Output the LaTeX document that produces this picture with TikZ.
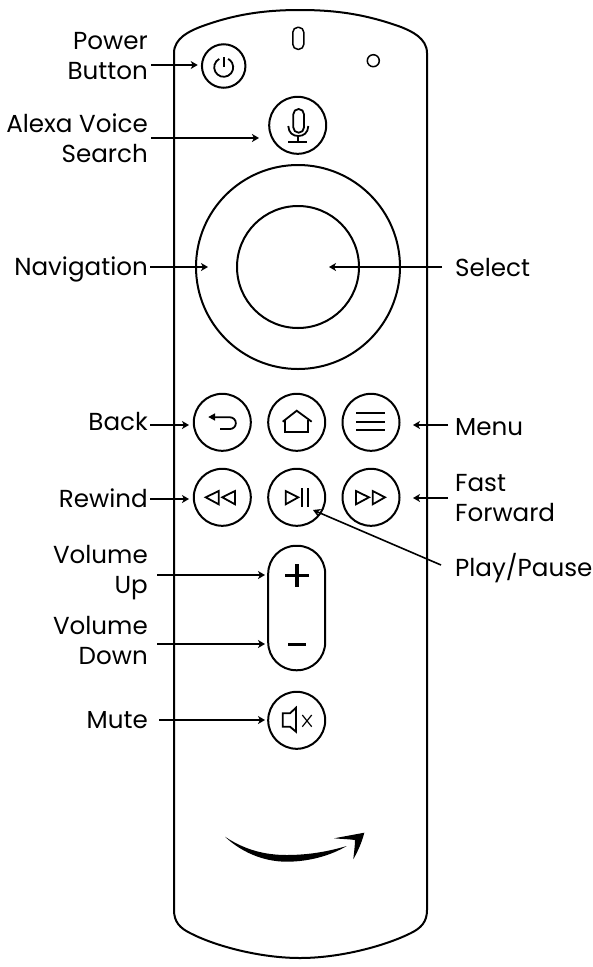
\documentclass[tikz,border=0pt]{standalone}
\usepackage{fontspec}
\setmainfont{Poppins}
\usetikzlibrary{arrows.meta}

\begin{document}
\begin{tikzpicture}[
      x=1pt, y=-1pt,
      font=\fontsize{24.6}{30}\selectfont,
      btn/.style={draw, circle, line width=2pt, inner sep=0pt, minimum size=57pt},
      ring/.style={draw, circle, line width=2pt, inner sep=0pt},
      lbl/.style={anchor=east, align=right, inner sep=0pt},
      lblr/.style={anchor=west, align=left, inner sep=0pt},
      flow/.style={-{Stealth[length=7pt,width=8pt,inset=2pt]}, line width=1.6pt},
      icon/.style={line width=1.8pt, line join=miter}
    ]
    \useasboundingbox (0,0) rectangle (592,967);

    % --- Body of the remote ---------------------------------------------------
    \draw[line width=2pt] (174,53) .. controls (174,38) and (190,31) .. (200,27)
      .. controls (235,14) and (265,10) .. (300,10)
      .. controls (335,10) and (365,14) .. (401,27)
      .. controls (411,31) and (427,38) .. (427,53)
      -- (427,910) .. controls (427,922) and (421,928) .. (411,933)
      .. controls (385,946) and (340,958) .. (300,958)
      .. controls (260,958) and (215,946) .. (190,933)
      .. controls (180,928) and (174,922) .. (174,910) -- cycle;

    % LED slot and light sensor
    \node[draw, line width=1.5pt, rounded corners=5pt, minimum width=11pt, minimum height=22pt,
          inner sep=0pt] (led) at (298.3,38.3) {};
    \node[ring, line width=1.5pt, minimum size=12pt] (sensor) at (373.3,60.7) {};

    % --- Buttons --------------------------------------------------------------
    \node[btn, minimum size=43.5pt] (power) at (223.7,66) {};
    \node[btn] (mic)     at (297.7,125.3) {};
    \node[ring, minimum size=204pt] (nav)    at (298,267) {};
    \node[ring, minimum size=122pt] (select) at (298,267) {};
    \node[btn] (back)    at (222.3,422.3) {};
    \node[btn] (home)    at (296.7,422.3) {};
    \node[btn] (menu)    at (371,422.3) {};
    \node[btn] (rewind)  at (222.3,497.3) {};
    \node[btn] (play)    at (296.7,497.3) {};
    \node[btn] (forward) at (371,497.3) {};
    \node[draw, line width=2pt, rounded corners=28pt, minimum width=57pt, minimum height=124.5pt,
          inner sep=0pt] (volume) at (296.7,608) {};
    \node[btn] (mute)    at (296.7,720.3) {};

    % --- Button glyphs --------------------------------------------------------
    \draw[icon] (223.7,57.3) -- (223.7,67.3);
    \draw[icon] (219.24,58.91) arc[start angle=-118, end angle=-422, radius=9.5];
    \draw[icon, rounded corners=5.3pt] (293.3,109) rectangle (304,132.7);
    \draw[icon] (288.3,126) .. controls (288.6,133) and (293,136) .. (298.3,136)
      .. controls (303.6,136) and (308,133) .. (308.3,126);
    \draw[icon] (298.3,136) -- (298.3,141.7);
    \draw[icon] (288.3,141.7) -- (307.3,141.7);

    \fill (208.3,417) -- (215,413.3) -- (215,420.7) -- cycle;
    \draw[icon] (214,417.3) -- (230,417.3) arc[start angle=-90, end angle=90, radius=5.85] -- (220,429);
    \draw[icon] (282.7,421.7) -- (296.7,410.7) -- (311.7,421.7);
    \draw[icon] (285,419.5) -- (285,431.7) -- (308.3,431.7) -- (308.3,419.5);
    \foreach \yy in {413.3,421.7,430}
      \draw[icon] (356,\yy) -- (385,\yy);

    \draw[icon] (205.7,497.3) -- (218.7,491) -- (218.7,504.3) -- cycle;
    \draw[icon] (222.3,497.3) -- (235,491) -- (235,504.3) -- cycle;
    \draw[icon] (298.3,497.3) -- (285.7,491) -- (285.7,504.3) -- cycle;
    \draw[icon] (302.3,488.3) -- (302.3,506.7);
    \draw[icon] (308,488.3) -- (308,506.7);
    \draw[icon] (369,497.3) -- (356,491) -- (356,504.3) -- cycle;
    \draw[icon] (385,497.3) -- (372.7,491) -- (372.7,504.3) -- cycle;

    \draw[line width=3.4pt] (285,575.7) -- (309,575.7);
    \draw[line width=3.4pt] (297,564) -- (297,587);
    \draw[line width=3.5pt] (288.3,644.7) -- (306,644.7);

    \draw[icon] (282.7,713.3) -- (290,713.3) -- (296,707.7) -- (296,731.7) -- (290,726.7) -- (282.7,726.7) -- cycle;
    \draw[line width=1.2pt] (302.3,715) -- (311.7,726.7);
    \draw[line width=1.2pt] (311.7,715) -- (302.3,726.7);

    % Smile with its arrow head
    \fill (225,836.7) .. controls (245,850) and (265,855) .. (286.7,855)
      .. controls (310,855) and (330,851) .. (346.7,846)
      .. controls (330,856) and (308,861.7) .. (286.7,861.7)
      .. controls (262,861.7) and (240,851) .. (225,836.7) -- cycle;
    \fill (334,838.3) -- (364.3,832.7) .. controls (362,842) and (358,851) .. (353.3,859.3)
      .. controls (354,852) and (355,846) .. (355,840) .. controls (348,839) and (341,839) .. (334,838.3) -- cycle;

    % --- Labels on the left ---------------------------------------------------
    \node[lbl] (lpower) at (148,56)  {Power\\Button};
    \node[lbl] (lmic)   at (148,138) {Alexa Voice\\Search};
    \node[lbl] (lnav)   at (148,269) {Navigation};
    \node[lbl] (lback)  at (148,422) {Back};
    \node[lbl] (lrew)   at (148,498) {Rewind};
    \node[lbl] (lup)    at (148,573) {Volume\\Up};
    \node[lbl] (ldown)  at (148,640) {Volume\\Down};
    \node[lbl] (lmute)  at (148,720) {Mute};

    % --- Labels on the right --------------------------------------------------
    \node[lblr] (lsel)  at (455,268) {Select};
    \node[lblr] (lmenu) at (455,427) {Menu};
    \node[lblr] (lfwd)  at (455,498) {Fast\\Forward};
    \node[lblr] (lplay) at (455,568) {Play/Pause};

    % Free ends of the leaders
    \coordinate (tpower) at (197.7,65);
    \coordinate (tmic)   at (259,138);
    \coordinate (tnav)   at (208,267);
    \coordinate (tsel)   at (329,267);
    \coordinate (tback)  at (189,425);
    \coordinate (tmenu)  at (413,425);
    \coordinate (trew)   at (189,499);
    \coordinate (tfwd)   at (413,498);
    \coordinate (tplay)  at (313,510);
    \coordinate (tup)    at (265,575);
    \coordinate (tdown)  at (265,644);
    \coordinate (tmute)  at (265,720);
    \coordinate (splay)  at (441,565);

    % --- Leaders --------------------------------------------------------------
    \draw[flow] ([xshift=3pt]lpower.east |- tpower) -- (tpower);
    \draw[flow] ([xshift=3pt]lmic.east |- tmic) -- (tmic);
    \draw[flow] ([xshift=2pt]lnav.east |- tnav) -- (tnav);
    \draw[flow] ([xshift=2pt]lback.east |- tback) -- (tback);
    \draw[flow] ([xshift=2pt]lrew.east |- trew) -- (trew);
    \draw[flow] ([xshift=9pt]lup.east |- tup) -- (tup);
    \draw[flow] ([xshift=9pt]ldown.east |- tdown) -- (tdown);
    \draw[flow] ([xshift=11pt]lmute.east |- tmute) -- (tmute);
    \draw[flow] ([xshift=-13pt]lsel.west |- tsel) -- (tsel);
    \draw[flow] ([xshift=-7pt]lmenu.west |- tmenu) -- (tmenu);
    \draw[flow] ([xshift=-7pt]lfwd.west |- tfwd) -- (tfwd);
    \draw[flow] (splay) -- (tplay);
\end{tikzpicture}
\end{document}
